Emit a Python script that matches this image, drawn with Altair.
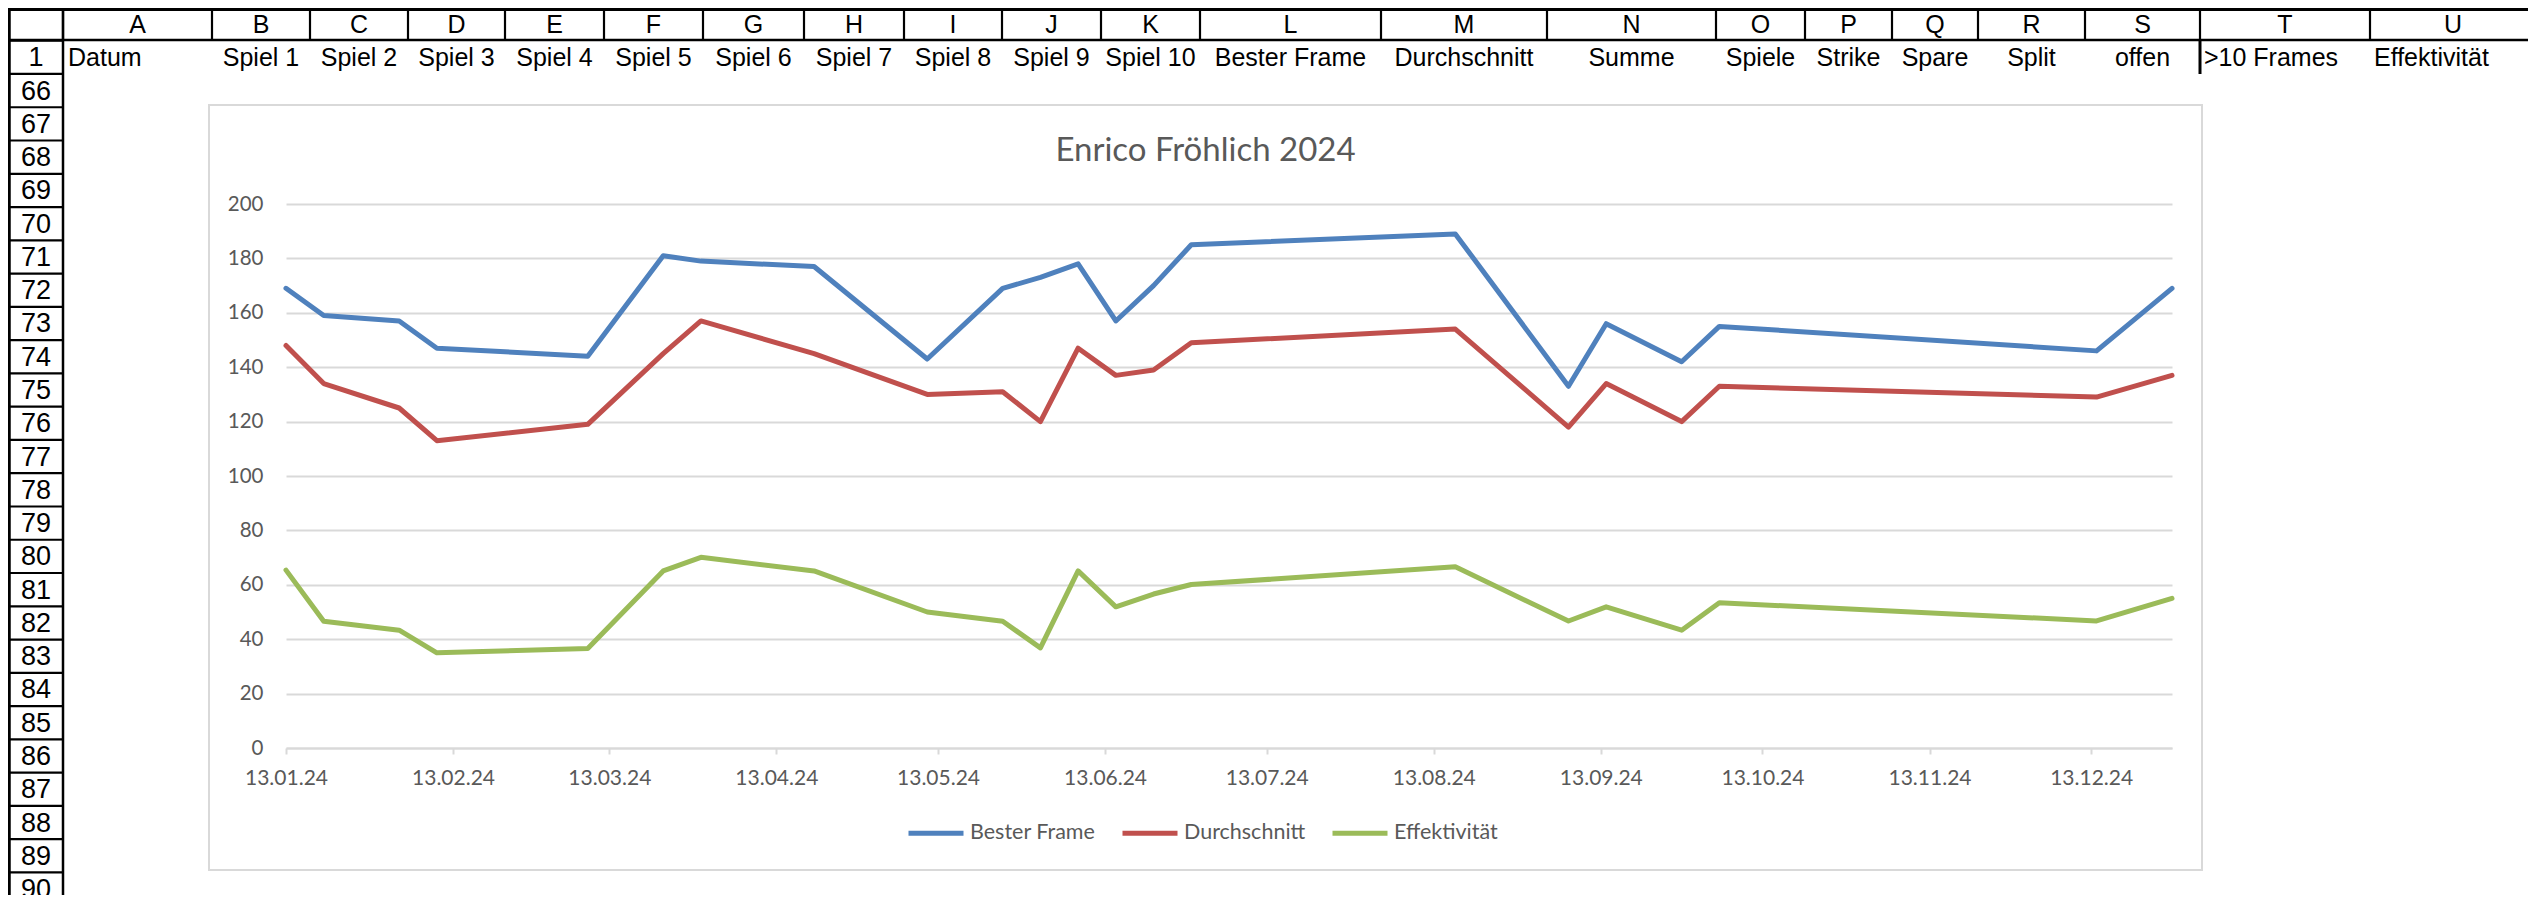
import altair as alt
import pandas as pd

# ---------------- data ----------------
dates = ["2024-01-13", "2024-01-20", "2024-02-03", "2024-02-10", "2024-03-09",
         "2024-03-23", "2024-03-30", "2024-04-20", "2024-05-11", "2024-05-25",
         "2024-06-01", "2024-06-08", "2024-06-15", "2024-06-22", "2024-06-29",
         "2024-08-17", "2024-09-07", "2024-09-14", "2024-09-28", "2024-10-05",
         "2024-12-14", "2024-12-28"]
bester_frame = [169, 159, 157, 147, 144, 181, 179, 177, 143, 169, 173,
                178, 157, 170, 185, 189, 133, 156, 142, 155, 146, 169]
durchschnitt = [148, 134, 125, 113, 119, 145, 157, 145, 130, 131, 120,
                147, 137, 139, 149, 154, 118, 134, 120, 133, 129, 137]
effektivitaet = [65.4, 46.6, 43.3, 35.0, 36.6, 65.1, 70.1, 65.1, 50.0, 46.6, 36.8,
                 65.1, 51.9, 56.6, 60.1, 66.6, 46.7, 51.9, 43.3, 53.4, 46.7, 55.0]
series_names = ["Bester Frame", "Durchschnitt", "Effektivität"]
series_colors = ["#4F81BD", "#C0504D", "#9BBB59"]
tick_months = [1, 2, 3, 4, 5, 6, 7, 8, 9, 10, 11, 12]
y_ticks = [0, 20, 40, 60, 80, 100, 120, 140, 160, 180, 200]
chart_title = "Enrico Fröhlich 2024"

column_letters = ["A", "B", "C", "D", "E", "F", "G", "H", "I", "J", "K",
                  "L", "M", "N", "O", "P", "Q", "R", "S", "T", "U"]
row_numbers = [1] + list(range(66, 91))
row1_labels = ["Datum", "Spiel 1", "Spiel 2", "Spiel 3", "Spiel 4", "Spiel 5",
               "Spiel 6", "Spiel 7", "Spiel 8", "Spiel 9", "Spiel 10",
               "Bester Frame", "Durchschnitt", "Summe", "Spiele", "Strike",
               "Spare", "Split", "offen", ">10 Frames", "Effektivität"]

# ---------------- layout (page pixels) ----------------
OX, OY = 286, 204          # plot origin on the page
PLOT_W, PLOT_H = 1886, 544
col_edges = [63, 212, 310, 408, 505, 604, 703, 804, 904, 1002, 1101, 1200,
             1381, 1547, 1716, 1805, 1892, 1978, 2085, 2200, 2370, 2536]
ROW_TOP0, ROW_H = 40.7, 33.27
LEFT_EDGE = 9
GRID_FONT = "Liberation Sans"
CHART_FONT = "Lato"
GREY_TXT = "#595959"
GRID_GREY = "#D9D9D9"


def rx(v):
    return v - OX


def ry(v):
    return v - OY


# spreadsheet border lines
rules = []
rules.append(dict(x=rx(LEFT_EDGE), x2=rx(2536), y=ry(9.5), y2=ry(9.5), w=3))
rules.append(dict(x=rx(LEFT_EDGE), x2=rx(2536), y=ry(40), y2=ry(40), w=2.5))
for e in col_edges[:-1]:
    rules.append(dict(x=rx(e), x2=rx(e), y=ry(8), y2=ry(40), w=2.2))
rules.append(dict(x=rx(LEFT_EDGE), x2=rx(LEFT_EDGE), y=ry(8), y2=ry(910), w=3.5))
rules.append(dict(x=rx(63), x2=rx(63), y=ry(8), y2=ry(910), w=2.5))
for k in range(len(row_numbers) + 1):
    yy = ROW_TOP0 + k * ROW_H
    rules.append(dict(x=rx(LEFT_EDGE), x2=rx(63), y=ry(yy), y2=ry(yy), w=2.2))
rules.append(dict(x=rx(2200), x2=rx(2200), y=ry(40), y2=ry(74), w=3))
df_rules = pd.DataFrame(rules)

grid_lines = alt.Chart(df_rules).mark_rule(color="black").encode(
    x=alt.X("x:Q", scale=None, axis=None),
    x2="x2:Q",
    y=alt.Y("y:Q", scale=None, axis=None),
    y2="y2:Q",
    strokeWidth=alt.StrokeWidth("w:Q", scale=None, legend=None),
)

# column letters
df_letters = pd.DataFrame({
    "x": [rx((col_edges[i] + col_edges[i + 1]) / 2) for i in range(len(column_letters))],
    "y": [ry(24.5)] * len(column_letters),
    "t": column_letters,
})
letters = alt.Chart(df_letters).mark_text(font=GRID_FONT, fontSize=25, color="black",
                                          baseline="middle", align="center").encode(
    x=alt.X("x:Q", scale=None, axis=None), y=alt.Y("y:Q", scale=None, axis=None), text="t:N")

# row numbers
df_rows = pd.DataFrame({
    "x": [rx(36)] * len(row_numbers),
    "y": [ry(ROW_TOP0 + (k + 0.5) * ROW_H + 1) for k in range(len(row_numbers))],
    "t": [str(r) for r in row_numbers],
})
rownums = alt.Chart(df_rows).mark_text(font=GRID_FONT, fontSize=27, color="black",
                                       baseline="middle", align="center").encode(
    x=alt.X("x:Q", scale=None, axis=None), y=alt.Y("y:Q", scale=None, axis=None), text="t:N")

# row 1 labels
left_cols = {0: 68, 19: 2204, 20: 2374}
center_idx = [i for i in range(len(row1_labels)) if i not in left_cols]
row1_y = ry(ROW_TOP0 + 0.5 * ROW_H + 1)
df_r1c = pd.DataFrame({
    "x": [rx((col_edges[i] + col_edges[i + 1]) / 2) for i in center_idx],
    "y": [row1_y] * len(center_idx),
    "t": [row1_labels[i] for i in center_idx],
})
df_r1l = pd.DataFrame({
    "x": [rx(v) for v in left_cols.values()],
    "y": [row1_y] * len(left_cols),
    "t": [row1_labels[i] for i in left_cols],
})
row1_c = alt.Chart(df_r1c).mark_text(font=GRID_FONT, fontSize=25, color="black",
                                     baseline="middle", align="center").encode(
    x=alt.X("x:Q", scale=None, axis=None), y=alt.Y("y:Q", scale=None, axis=None), text="t:N")
row1_l = alt.Chart(df_r1l).mark_text(font=GRID_FONT, fontSize=25, color="black",
                                     baseline="middle", align="left").encode(
    x=alt.X("x:Q", scale=None, axis=None), y=alt.Y("y:Q", scale=None, axis=None), text="t:N")

# chart object frame
df_box = pd.DataFrame({"x": [rx(209)], "x2": [rx(2202)], "y": [ry(105)], "y2": [ry(870)]})
box = alt.Chart(df_box).mark_rect(fillOpacity=0, stroke=GRID_GREY, strokeWidth=2).encode(
    x=alt.X("x:Q", scale=None, axis=None), x2="x2:Q",
    y=alt.Y("y:Q", scale=None, axis=None), y2="y2:Q")

# chart title
df_title = pd.DataFrame({"x": [rx(1205.5)], "y": [ry(161)], "t": [chart_title]})
title = alt.Chart(df_title).mark_text(font=CHART_FONT, fontSize=33, color=GREY_TXT,
                                      baseline="alphabetic", align="center").encode(
    x=alt.X("x:Q", scale=None, axis=None), y=alt.Y("y:Q", scale=None, axis=None), text="t:N")

# series data
records = []
for name, vals in zip(series_names, [bester_frame, durchschnitt, effektivitaet]):
    for d, v in zip(dates, vals):
        records.append({"Datum": d, "Wert": v, "Reihe": name})
df = pd.DataFrame(records)

lines = alt.Chart(df).mark_line(strokeWidth=5, strokeCap="round", strokeJoin="round").encode(
    x=alt.X("Datum:T",
            scale=alt.Scale(type="utc", nice=False),
            axis=alt.Axis(values=[alt.DateTime(year=2024, month=m, date=13, utc=True) for m in tick_months],
                          labelExpr="utcFormat(datum.value, '%d.%m.%y')",
                          title=None, grid=False,
                          labelFont=CHART_FONT, labelFontSize=21, labelColor=GREY_TXT,
                          domainColor=GRID_GREY, domainWidth=2, tickColor=GRID_GREY,
                          tickWidth=2, tickSize=6, labelPadding=13, labelFlush=False,
                          labelOverlap=False)),
    y=alt.Y("Wert:Q",
            scale=alt.Scale(domain=[0, 200], nice=False),
            axis=alt.Axis(values=y_ticks, title=None, domain=False, ticks=False, grid=True,
                          gridColor=GRID_GREY, gridWidth=2, labelFont=CHART_FONT,
                          labelFontSize=20.5, labelColor=GREY_TXT, labelPadding=23)),
    color=alt.Color("Reihe:N", sort=series_names,
                    scale=alt.Scale(domain=series_names, range=series_colors),
                    legend=alt.Legend(orient="none", legendX=rx(906), legendY=ry(803),
                                      direction="horizontal", title=None,
                                      symbolType="stroke", symbolSize=3025,
                                      symbolStrokeWidth=5, labelFont=CHART_FONT,
                                      labelFontSize=21.5, labelColor=GREY_TXT,
                                      labelOffset=4, columnPadding=16, padding=0)),
)

chart = alt.layer(grid_lines, letters, rownums, row1_c, row1_l, box, title, lines).properties(
    width=PLOT_W, height=PLOT_H,
    autosize=alt.AutoSizeParams(type="none"),
    padding={"left": OX - 8, "top": OY - 8,
             "right": 2520 - (OX - 8) - PLOT_W, "bottom": 887 - (OY - 8) - PLOT_H},
    background="white",
).configure_view(strokeWidth=0)

chart.save("out.html", embed_options={"renderer": "svg", "actions": False})
